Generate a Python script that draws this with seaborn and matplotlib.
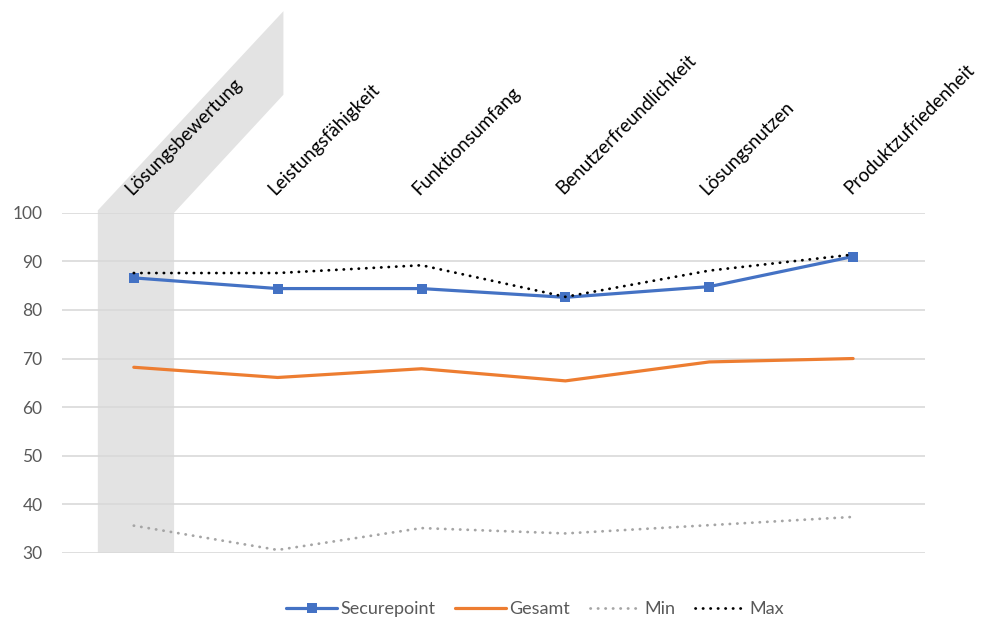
import numpy as np
import pandas as pd
import matplotlib.pyplot as plt
from matplotlib.patches import Polygon
import seaborn as sns

# categories and series values
categories = ["Lösungsbewertung", "Leistungsfähigkeit", "Funktionsumfang",
              "Benutzerfreundlichkeit", "Lösungsnutzen", "Produktzufriedenheit"]
securepoint = [86.6, 84.4, 84.4, 82.6, 84.8, 91.0]
gesamt = [68.2, 66.1, 67.9, 65.4, 69.3, 70.0]
min_vals = [35.6, 30.6, 35.1, 34.0, 35.7, 37.4]
max_vals = [87.6, 87.6, 89.2, 82.7, 88.1, 91.4]
y_ticks = [30, 40, 50, 60, 70, 80, 90, 100]

sns.set_theme(style="white")
plt.rcParams["font.family"] = ["Lato", "DejaVu Sans"]

df = pd.DataFrame({"Kategorie": categories, "Securepoint": securepoint,
                   "Gesamt": gesamt, "Min": min_vals, "Max": max_vals})
df["x"] = np.arange(len(categories))

fig = plt.figure(figsize=(9.82, 6.24), dpi=100)
ax = fig.add_axes([0.063, 0.114, 0.879, 0.545])

# grey highlight band behind the first category, slanting up with its label
band = Polygon([(-0.25, 30), (0.28, 30), (0.28, 100), (1.04, 124.3),
                (1.04, 141.5), (-0.25, 100.5)],
               closed=True, facecolor="#E3E3E3", edgecolor="none",
               clip_on=False, zorder=0)
ax.add_patch(band)

dot = (0, (0.1, 2.6))
sns.lineplot(data=df, x="x", y="Min", ax=ax, color="#A5A5A5", linewidth=2,
             linestyle=dot, dash_capstyle="round", label="Min", zorder=2)
sns.lineplot(data=df, x="x", y="Gesamt", ax=ax, color="#ED7D31",
             linewidth=2.3, label="Gesamt", zorder=3)
sns.lineplot(data=df, x="x", y="Securepoint", ax=ax, color="#4472C4",
             linewidth=2.3, marker="s", markersize=6.5, markeredgewidth=0,
             label="Securepoint", zorder=4)
sns.lineplot(data=df, x="x", y="Max", ax=ax, color="black", linewidth=2,
             linestyle=dot, dash_capstyle="round", label="Max", zorder=5)

ax.set_xlim(-0.5, len(categories) - 0.5)
ax.set_ylim(30, 100)
ax.set_yticks(y_ticks)
ax.yaxis.grid(True, color="#D9D9D9", linewidth=1.2)
ax.set_axisbelow(True)
for s in ax.spines.values():
    s.set_visible(False)

ax.xaxis.tick_top()
ax.set_xticks(df["x"])
ax.set_xticklabels(categories, rotation=45, ha="left", va="bottom",
                   rotation_mode="anchor", fontsize=13.5, color="black")
ax.tick_params(axis="x", length=0, pad=11)
ax.tick_params(axis="y", length=0, pad=14, labelsize=12.5, labelcolor="#595959")
ax.set_xlabel("")
ax.set_ylabel("")

# legend at the bottom in Excel order
handles, labels = ax.get_legend_handles_labels()
order = ["Securepoint", "Gesamt", "Min", "Max"]
hmap = dict(zip(labels, handles))
ax.get_legend().remove()
fig.legend([hmap[k] for k in order], order, loc="center",
           bbox_to_anchor=(0.545, 0.024), ncol=4, frameon=False,
           fontsize=13, handlelength=2.8, columnspacing=1.1, handletextpad=0.2,
           labelcolor="#595959")

fig.savefig("out.png", dpi=100)
